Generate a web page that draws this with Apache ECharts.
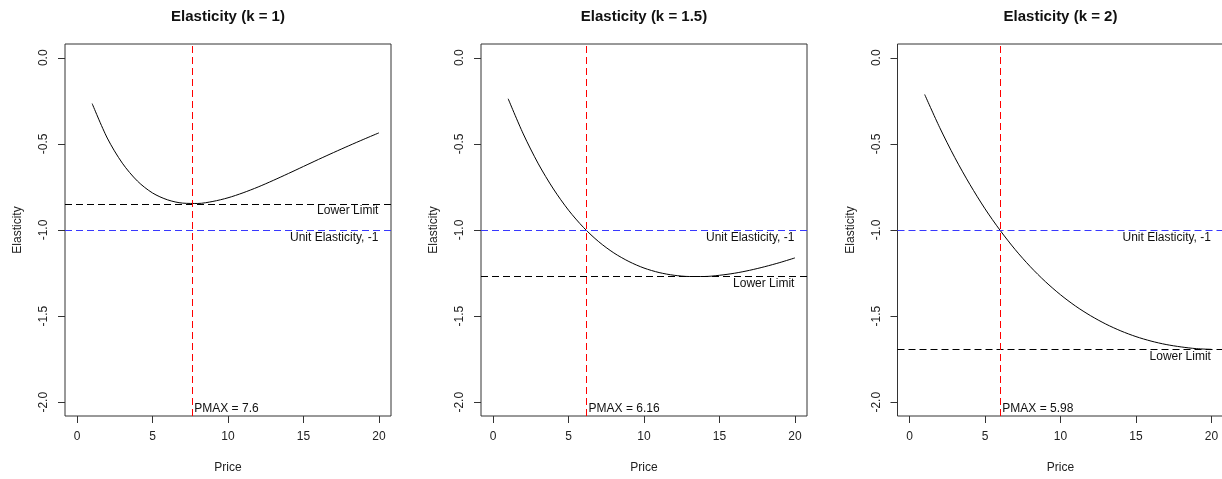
<!DOCTYPE html>
<html>
<head>
<meta charset="utf-8">
<script src="https://cdn.jsdelivr.net/npm/echarts@6/dist/echarts.min.js"></script>
<style>
html,body{margin:0;padding:0;background:#fff;}
#chart{width:1222px;height:479px;}
</style>
</head>
<body>
<div id="chart"></div>
<script>
// ---- data ----
const prices = [1, 2, 3, 4, 5, 6, 7, 8, 9, 10, 11, 12, 13, 14, 15, 16, 17, 18, 19, 20];
const elasticityK1 = [-0.266, -0.466, -0.612, -0.716, -0.785, -0.825, -0.844, -0.846, -0.834, -0.813,
  -0.784, -0.750, -0.712, -0.672, -0.631, -0.590, -0.550, -0.511, -0.473, -0.436];
const elasticityK15 = [-0.238, -0.442, -0.616, -0.762, -0.885, -0.986, -1.068, -1.133, -1.183, -1.221,
  -1.247, -1.263, -1.270, -1.270, -1.263, -1.251, -1.234, -1.213, -1.189, -1.162];
const elasticityK2 = [-0.213, -0.406, -0.580, -0.736, -0.877, -1.002, -1.114, -1.213, -1.300, -1.376,
  -1.442, -1.498, -1.546, -1.586, -1.619, -1.645, -1.665, -1.679, -1.689, -1.693];
const kLabels = ['1', '1.5', '2'];
const pmax = [7.6, 6.16, 5.98];
const lowerLimit = [-0.847, -1.271, -1.694];
const unitElasticity = -1;
const xTickValues = [0, 5, 10, 15, 20];
const yTickValues = [-2, -1.5, -1, -0.5, 0];
const labelPrice = 20;

// ---- layout / style ----
const FONT = "'Liberation Sans', Arial, sans-serif";
const panelLeft = [65, 481, 897.5];
const panelWidth = 326;
const panelTop = 44;
const panelHeight = 372;
const curves = [elasticityK1, elasticityK15, elasticityK2];
const pmaxLabelY = -2.043;

const grids = [], xAxes = [], yAxes = [], series = [], titles = [];
for (let i = 0; i < 3; i++) {
  grids.push({
    left: panelLeft[i], top: panelTop, width: panelWidth, height: panelHeight,
    show: true, borderColor: '#333', borderWidth: 1, backgroundColor: 'transparent',
    containLabel: false, outerBoundsMode: 'none'
  });
  titles.push({
    text: 'Elasticity (k = ' + kLabels[i] + ')',
    left: panelLeft[i] + panelWidth / 2, top: 9, padding: 0, textAlign: 'center',
    textStyle: { fontFamily: FONT, fontSize: 15, fontWeight: 'bold', color: '#111' }
  });
  xAxes.push({
    gridIndex: i, type: 'value', min: -0.8, max: 20.8, position: 'bottom',
    name: 'Price', nameLocation: 'middle', nameGap: 46,
    nameTextStyle: { fontFamily: FONT, fontSize: 12, color: '#222' },
    axisLine: { show: false, onZero: false },
    axisTick: { show: true, length: 7, inside: false, customValues: xTickValues, lineStyle: { color: '#333' } },
    axisLabel: { customValues: xTickValues, fontFamily: FONT, fontSize: 12, color: '#222', margin: 15 },
    splitLine: { show: false }
  });
  yAxes.push({
    gridIndex: i, type: 'value', min: -2.08, max: 0.08, position: 'left',
    name: 'Elasticity', nameLocation: 'middle', nameGap: 41, nameRotate: 90,
    nameTextStyle: { fontFamily: FONT, fontSize: 12, color: '#222' },
    axisLine: { show: false, onZero: false },
    axisTick: { show: true, length: 7, inside: false, customValues: yTickValues, lineStyle: { color: '#333' } },
    axisLabel: {
      customValues: yTickValues, rotate: 90, fontFamily: FONT, fontSize: 12, color: '#222', margin: 15,
      formatter: v => Number(v).toFixed(1)
    },
    splitLine: { show: false }
  });
  const labelStyle = { fontFamily: FONT, fontSize: 12, color: '#111' };
  series.push({
    type: 'line', xAxisIndex: i, yAxisIndex: i,
    data: prices.map((p, j) => [p, curves[i][j]]),
    showSymbol: false, smooth: 0.3,
    lineStyle: { color: '#000', width: 1 },
    silent: true, animation: false,
    markLine: {
      silent: true, symbol: ['none', 'none'], animation: false,
      label: { show: false },
      data: [
        { yAxis: lowerLimit[i], lineStyle: { color: '#000', type: [7, 4], width: 1 } },
        { yAxis: unitElasticity, lineStyle: { color: '#3838ff', type: [7, 4], width: 1 } },
        { xAxis: pmax[i], lineStyle: { color: '#ff0000', type: [7, 4], width: 1 } }
      ]
    },
    markPoint: {
      silent: true, animation: false, symbol: 'circle', symbolSize: 1,
      itemStyle: { color: 'rgba(0,0,0,0)' },
      data: [
        { coord: [labelPrice, lowerLimit[i]], label: Object.assign({ show: true, formatter: 'Lower Limit', position: [0, 2], align: 'right', verticalAlign: 'top' }, labelStyle) },
        { coord: [labelPrice, unitElasticity], label: Object.assign({ show: true, formatter: 'Unit Elasticity, -1', position: [0, 2], align: 'right', verticalAlign: 'top' }, labelStyle) },
        { coord: [pmax[i], pmaxLabelY], label: Object.assign({ show: true, formatter: 'PMAX = ' + pmax[i], position: [3, 0], align: 'left', verticalAlign: 'middle' }, labelStyle) }
      ]
    }
  });
}

const chart = echarts.init(document.getElementById('chart'), null, { renderer: 'canvas' });
chart.setOption({
  animation: false,
  backgroundColor: '#fff',
  title: titles,
  grid: grids,
  xAxis: xAxes,
  yAxis: yAxes,
  series: series
});
</script>
</body>
</html>
